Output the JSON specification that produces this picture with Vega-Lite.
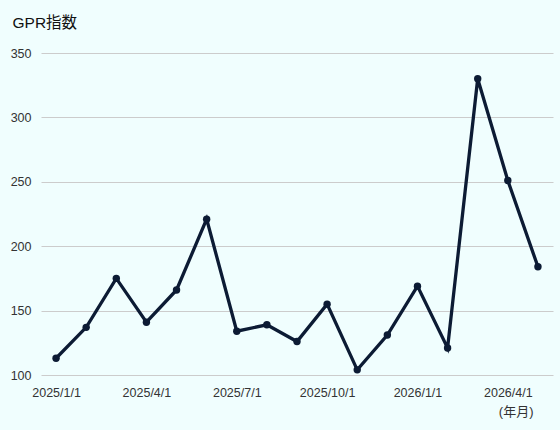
{
  "$schema": "https://vega.github.io/schema/vega-lite/v6.json",
  "width": 512,
  "height": 322,
  "autosize": {"type": "none"},
  "padding": {"left": 41, "top": 53, "right": 7, "bottom": 55},
  "background": "#f0fefe",
  "config": {
    "view": {"stroke": null},
    "font": "Liberation Sans, Noto Sans CJK JP"
  },
  "data": {
    "values": [
      {"date": "2025/1/1", "gpr": 113},
      {"date": "2025/2/1", "gpr": 137},
      {"date": "2025/3/1", "gpr": 175},
      {"date": "2025/4/1", "gpr": 141},
      {"date": "2025/5/1", "gpr": 166},
      {"date": "2025/6/1", "gpr": 221},
      {"date": "2025/7/1", "gpr": 134},
      {"date": "2025/8/1", "gpr": 139},
      {"date": "2025/9/1", "gpr": 126},
      {"date": "2025/10/1", "gpr": 155},
      {"date": "2025/11/1", "gpr": 104},
      {"date": "2025/12/1", "gpr": 131},
      {"date": "2026/1/1", "gpr": 169},
      {"date": "2026/2/1", "gpr": 121},
      {"date": "2026/3/1", "gpr": 330},
      {"date": "2026/4/1", "gpr": 251},
      {"date": "2026/5/1", "gpr": 184}
    ]
  },
  "encoding": {
    "x": {
      "field": "date",
      "type": "ordinal",
      "sort": null,
      "scale": {"type": "point", "padding": 0.5},
      "axis": {
        "values": ["2025/1/1", "2025/4/1", "2025/7/1", "2025/10/1", "2026/1/1", "2026/4/1"],
        "labelAngle": 0,
        "ticks": false,
        "domain": false,
        "grid": false,
        "labelPadding": 11,
        "labelFontSize": 12.5,
        "labelColor": "#333333",
        "labelFont": "Liberation Sans",
        "title": "(年月)",
        "titleFont": "Liberation Sans, Noto Sans CJK JP",
        "titleFontSize": 13,
        "titleFontWeight": "normal",
        "titleColor": "#333333",
        "titleAnchor": "end",
        "titleAlign": "right",
        "titleBaseline": "middle",
        "titleX": 492,
        "titleY": 36
      }
    },
    "y": {
      "field": "gpr",
      "type": "quantitative",
      "scale": {"domain": [100, 350], "nice": false, "zero": false},
      "axis": {
        "values": [100, 150, 200, 250, 300, 350],
        "ticks": false,
        "domain": false,
        "grid": true,
        "gridColor": "#cccccc",
        "gridWidth": 1,
        "labelPadding": 10,
        "labelFontSize": 12.5,
        "labelColor": "#333333",
        "labelFont": "Liberation Sans",
        "title": "GPR指数",
        "titleFont": "Liberation Sans, Noto Sans CJK JP",
        "titleFontSize": 15.5,
        "titleFontWeight": "normal",
        "titleColor": "#111111",
        "titleAngle": 0,
        "titleAlign": "left",
        "titleBaseline": "middle",
        "titleX": -29,
        "titleY": -31
      }
    }
  },
  "layer": [
    {"mark": {"type": "line", "stroke": "#0c1b34", "strokeWidth": 3.3}},
    {"mark": {"type": "point", "filled": true, "fill": "#0c1b34", "opacity": 1, "size": 55}}
  ]
}
